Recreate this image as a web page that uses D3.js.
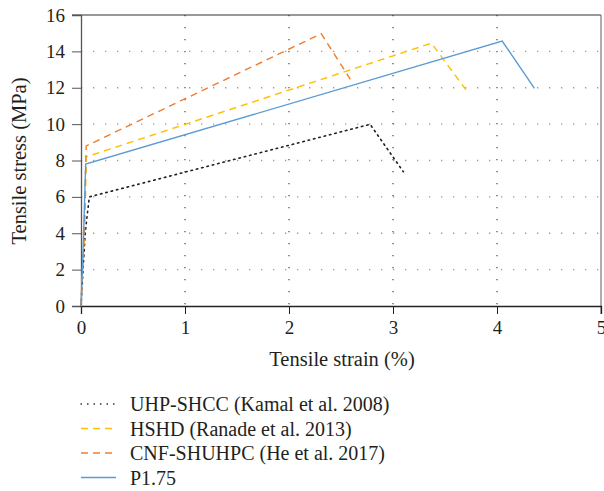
<!DOCTYPE html>
<html>
<head>
<meta charset="utf-8">
<script src="https://cdn.jsdelivr.net/npm/d3@7"></script>
<style>
  body { margin: 0; background: #fff; }
  text { font-family: "Liberation Serif", "DejaVu Serif", serif; fill: #231f20; }
</style>
</head>
<body>
<div id="chart"></div>
<script>
// strain (%) / stress (MPa) pairs
const seriesNames = ["UHP-SHCC (Kamal et al. 2008)", "HSHD (Ranade et al. 2013)", "CNF-SHUHPC (He et al. 2017)", "P1.75"];
const uhpStrain = [0, 0.04, 0.08, 2.78, 3.10];
const uhpStress = [0, 4.0, 6.0, 9.99, 7.38];
const hshdStrain = [0, 0.04, 0.05, 3.37, 3.70];
const hshdStress = [0, 5.0, 8.2, 14.45, 11.9];
const cnfStrain = [0, 0.03, 0.05, 2.31, 2.59];
const cnfStress = [0, 4.0, 8.8, 14.97, 12.46];
const p175Strain = [0, 0.02, 0.045, 4.05, 4.36];
const p175Stress = [0, 3.0, 7.8, 14.57, 11.97];
const xTicks = [0, 1, 2, 3, 4, 5];
const yTicks = [0, 2, 4, 6, 8, 10, 12, 14, 16];

const colors = ["#231f20", "#FFC000", "#ED7D31", "#5B9BD5"];
const dashes = ["1.5,4", "7,5", "7,5", null];

const series = [
  [uhpStrain, uhpStress], [hshdStrain, hshdStress],
  [cnfStrain, cnfStress], [p175Strain, p175Stress]
].map(([xs, ys], i) => ({ name: seriesNames[i], pts: xs.map((x, j) => [x, ys[j]]) }));

const W = 604, H = 491;
const margin = {top: 15, right: 3, bottom: 185, left: 81};
const width = W - margin.left - margin.right,
      height = H - margin.top - margin.bottom;

const svg = d3.select("#chart").append("svg")
  .attr("width", W).attr("height", H);
const g = svg.append("g")
  .attr("transform", "translate(" + margin.left + "," + margin.top + ")");

const x = d3.scaleLinear().domain([0, 5]).range([0, width]);
const y = d3.scaleLinear().domain([0, 16]).range([height, 0]);

// dotted grid
g.append("g").selectAll("line").data(yTicks.filter(d => d > 0 && d < 16)).join("line")
  .attr("x1", 0).attr("x2", width)
  .attr("y1", d => y(d)).attr("y2", d => y(d))
  .attr("stroke", "#9a9a9a").attr("stroke-width", 1.3).attr("stroke-dasharray", "1.3,10.7");
g.append("g").selectAll("line").data(xTicks.filter(d => d > 0 && d < 5)).join("line")
  .attr("x1", d => x(d)).attr("x2", d => x(d))
  .attr("y1", 0).attr("y2", height)
  .attr("stroke", "#555").attr("stroke-width", 1.3).attr("stroke-dasharray", "1.3,10.7");

// top and right border
g.append("line").attr("x1", -9).attr("x2", width).attr("y1", 0).attr("y2", 0)
  .attr("stroke", "#333").attr("stroke-width", 1.2);
g.append("line").attr("x1", width).attr("x2", width).attr("y1", 0).attr("y2", height + 8)
  .attr("stroke", "#777").attr("stroke-width", 1.2);

const xAxis = g.append("g").attr("transform", `translate(0,${height})`)
  .call(d3.axisBottom(x).tickValues(xTicks).tickSize(8).tickPadding(7).tickFormat(d3.format("d")));
const yAxis = g.append("g")
  .call(d3.axisLeft(y).tickValues(yTicks).tickSize(9).tickPadding(7).tickFormat(d3.format("d")));
[xAxis, yAxis].forEach(a => {
  a.selectAll("text").style("font-size", "19px").attr("fill", "#231f20");
  a.select(".domain").attr("stroke-width", 1.3);
});
xAxis.selectAll("line, .domain").attr("stroke", "#222");
yAxis.selectAll("line, .domain").attr("stroke", "#555");

const line = d3.line().x(d => x(d[0])).y(d => y(d[1]));
g.append("g").selectAll("path").data(series).join("path")
  .attr("d", d => line(d.pts))
  .attr("fill", "none")
  .attr("stroke", (d, i) => colors[i])
  .attr("stroke-width", (d, i) => i === 0 ? 1.6 : 1.4)
  .attr("stroke-linecap", (d, i) => i === 0 ? "round" : "butt")
  .attr("stroke-dasharray", (d, i) => dashes[i]);

// axis titles
svg.append("text").attr("x", margin.left + x(2.5) + 1).attr("y", 366)
  .attr("text-anchor", "middle").style("font-size", "20.5px").text("Tensile strain (%)");
svg.append("text").attr("transform", "translate(26,161) rotate(-90)")
  .attr("text-anchor", "middle").style("font-size", "20.5px").text("Tensile stress (MPa)");

// legend
const legend = svg.append("g").attr("transform", "translate(80,404)");
const rows = legend.selectAll("g").data(series).join("g")
  .attr("transform", (d, i) => `translate(0,${i * 24.5})`);
rows.append("line").attr("x1", 1).attr("x2", 36).attr("y1", 0).attr("y2", 0)
  .attr("stroke", (d, i) => colors[i])
  .attr("stroke-width", 1.3)
  .attr("stroke-linecap", (d, i) => i === 0 ? "round" : "butt")
  .attr("stroke-dasharray", (d, i) => i === 0 ? "0.5,6" : dashes[i]);
rows.append("text").attr("x", 50).attr("y", 7)
  .style("font-size", "20px").text(d => d.name);
</script>
</body>
</html>
